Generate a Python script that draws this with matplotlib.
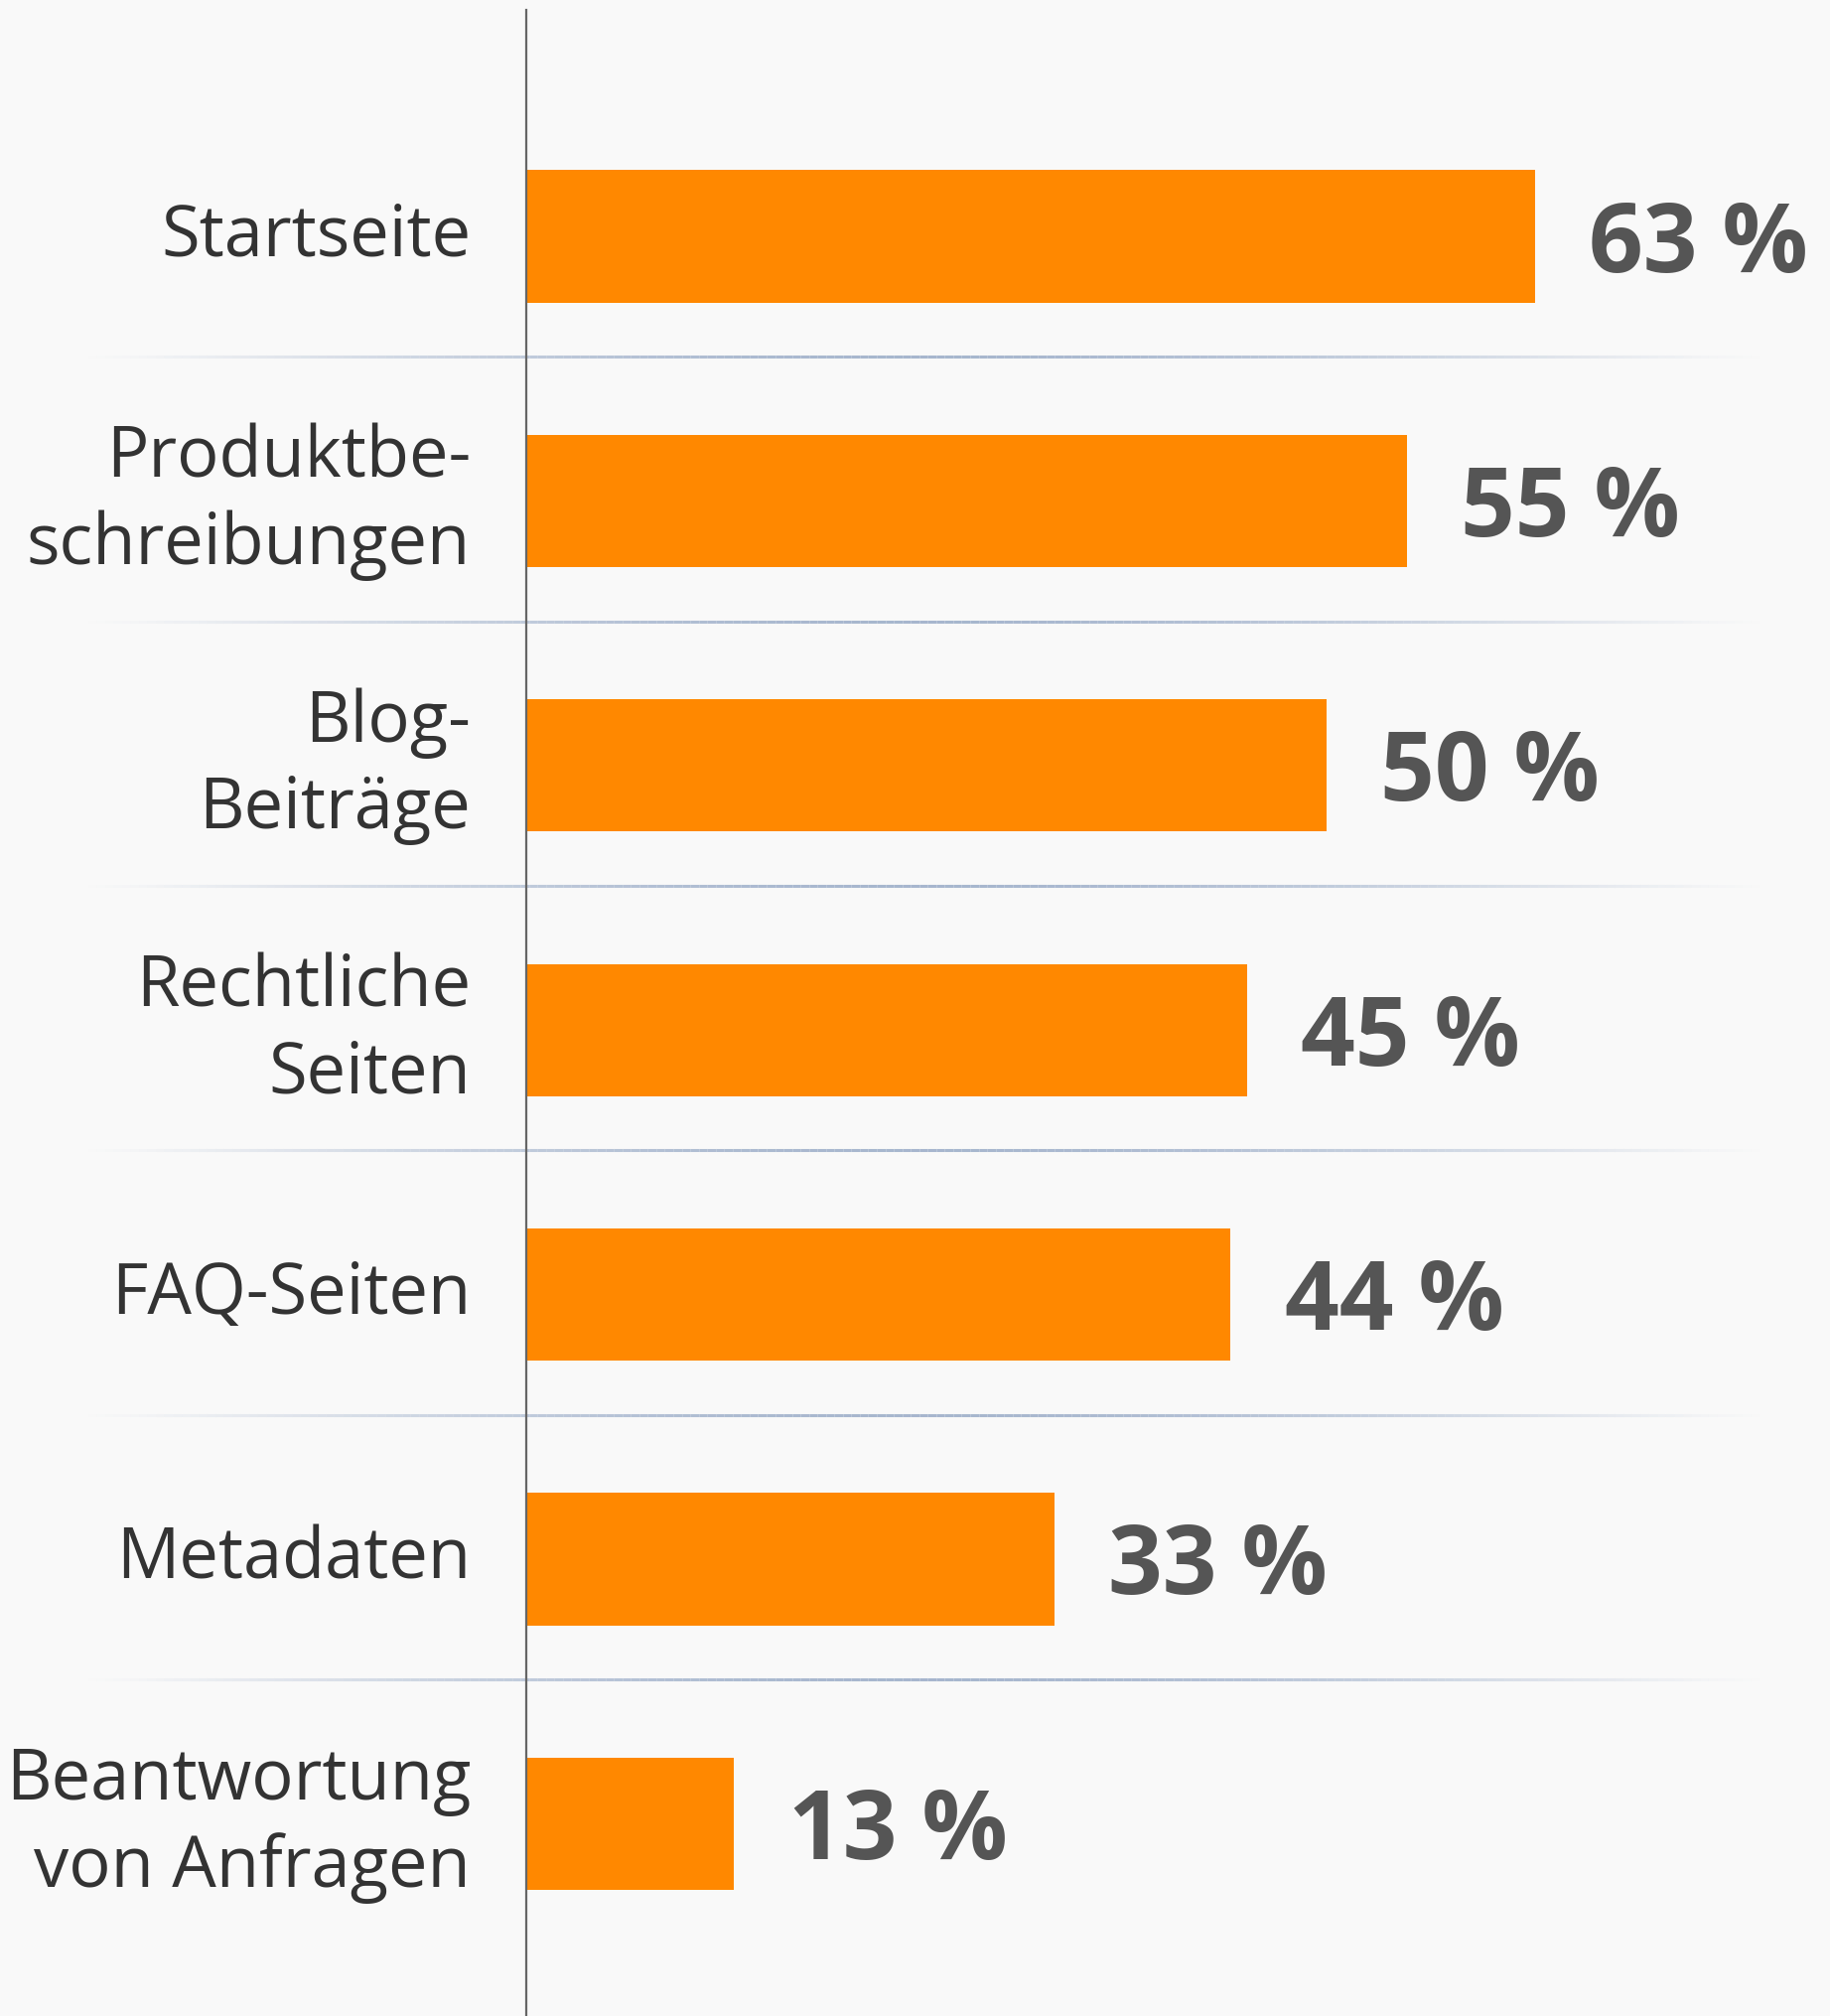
import numpy as np
import matplotlib

matplotlib.use("Agg")
import matplotlib.pyplot as plt  # noqa: E402
from matplotlib.collections import LineCollection  # noqa: E402
from matplotlib.transforms import blended_transform_factory  # noqa: E402

categories = [
    "Startseite",
    "Produktbe-\nschreibungen",
    "Blog-\nBeiträge",
    "Rechtliche\nSeiten",
    "FAQ-Seiten",
    "Metadaten",
    "Beantwortung\nvon Anfragen",
]
values = [63, 55, 50, 45, 44, 33, 13]

BACKGROUND = "#f9f9f9"
BAR_COLOR = "#ff8800"
LABEL_COLOR = "#333333"
VALUE_COLOR = "#555555"
FONT = ["Open Sans", "DejaVu Sans"]

fig = plt.figure(figsize=(18.43, 20.31), dpi=100, facecolor=BACKGROUND)
ax = fig.add_axes([529.7 / 1843, 0.0, 1 - 529.7 / 1843, 1 - 11 / 2031])
ax.set_facecolor(BACKGROUND)

rows = np.arange(len(categories))
ax.barh(rows, values, height=0.5, color=BAR_COLOR, zorder=2)
ax.set_xlim(0, 1313.3 / 16.13)
ax.set_ylim(6.727, -0.856)

for spine in ("top", "right", "bottom"):
    ax.spines[spine].set_visible(False)
ax.spines["left"].set_color("#666666")
ax.spines["left"].set_linewidth(1.6)
ax.spines["left"].set_zorder(3)
ax.set_xticks([])
ax.set_yticks([])

# category labels left of the axis, values right of the bars
for row, (label, value) in enumerate(zip(categories, values)):
    ax.annotate(
        label,
        xy=(0, row),
        xytext=(-40, 0),
        textcoords="offset points",
        ha="right",
        va="center",
        fontsize=50.8,
        family=FONT,
        color=LABEL_COLOR,
        linespacing=1.3,
        annotation_clip=False,
    )
    ax.annotate(
        f"{value} %",
        xy=(value, row),
        xytext=(39, -6.5),
        textcoords="offset points",
        ha="left",
        va="center",
        fontsize=69,
        fontweight="bold",
        family=FONT,
        color=VALUE_COLOR,
        annotation_clip=False,
    )

# faded separator lines between rows, darker in the middle
sep_transform = blended_transform_factory(fig.transFigure, ax.transData)
xs = np.linspace(80 / 1843, 1780 / 1843, 200)
t = np.linspace(0, 1, len(xs) - 1)
alphas = 0.85 * np.sin(np.pi * t) ** 1.2
for row in rows[:-1]:
    y = row + 0.455
    segments = [[(xs[i], y), (xs[i + 1], y)] for i in range(len(xs) - 1)]
    colors = [(0.60, 0.67, 0.78, a) for a in alphas]
    lc = LineCollection(
        segments,
        colors=colors,
        linewidths=2.2,
        transform=sep_transform,
        zorder=1,
        clip_on=False,
    )
    ax.add_collection(lc)

fig.savefig("out.png", dpi=100, facecolor=BACKGROUND)
